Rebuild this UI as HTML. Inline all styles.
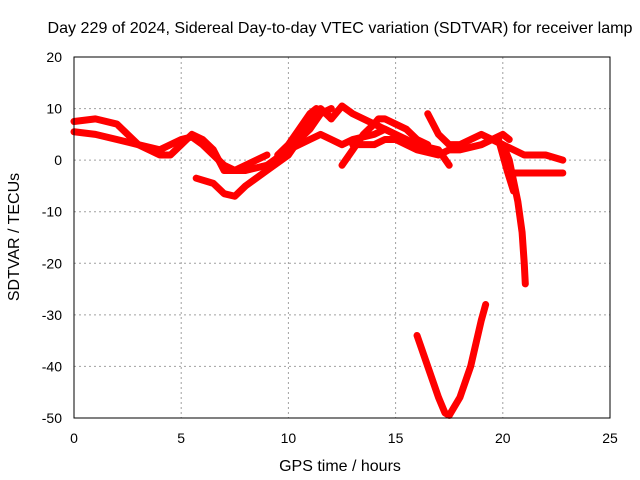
<!DOCTYPE html>
<html><head><meta charset="utf-8"><style>
html,body{margin:0;padding:0;background:#fff}
svg{display:block;font-family:"Liberation Sans",sans-serif}
</style></head><body>
<svg id="chart" width="640" height="480">
<text x="340" y="33" text-anchor="middle" font-size="16" textLength="585" lengthAdjust="spacingAndGlyphs">Day 229 of 2024, Sidereal Day-to-day VTEC variation (SDTVAR) for receiver lamp</text>
<g id="grid"></g>
<g id="ticks"></g>
<g id="series"></g>
<rect x="74" y="57" width="536" height="361" fill="none" stroke="#000"/>
<text x="340" y="471" text-anchor="middle" font-size="16">GPS time / hours</text>
<text transform="translate(19,237) rotate(-90)" text-anchor="middle" font-size="16">SDTVAR / TECUs</text>
</svg>
<script>
const xTicks=[0,5,10,15,20,25];
const yTicks=[20,10,0,-10,-20,-30,-40,-50];
const s1=[[0,7.5],[1,8],[2,7],[2.5,5],[3,3],[4,2],[5,4],[5.5,4.5],[6,3],[7,-1],[7.5,-2],[8,-1],[8.5,0],[9,1]];
const s2=[[0,5.5],[1,5],[2,4],[3,3],[4,1],[4.5,1],[5,3],[5.5,5],[6,4],[6.5,2],[7,-2],[7.5,-2],[8,-2],[9,-1],[10,2],[11,6],[11.5,9],[12,10]];
const s3=[[5.7,-3.5],[6.5,-4.5],[7,-6.5],[7.5,-7],[8,-5],[9,-2],[10,1],[10.5,4],[11,7],[11.5,10],[12,8]];
const s4=[[9.5,1],[10,3],[10.5,6],[11,9],[11.3,10],[11.8,9],[12,8],[12.5,10.5],[13,9],[14,7],[15,5],[16,3],[17,2],[17.5,-1]];
const s5=[[10,2],[11,4],[11.5,5],[12,4],[12.5,3],[13,4],[14,5],[14.5,6],[15,5],[15.5,4]];
const s6=[[12.5,-1],[13,2],[13.5,5],[14,7],[14.2,8],[14.5,8],[15,7],[15.5,6],[16,4],[16.5,3]];
const s7=[[13,3],[14,3],[14.5,4],[15,4],[16,2],[17,1],[17.5,2],[18,2],[19,3],[19.5,4],[20,5],[20.3,4]];
const s8=[[16.5,9],[17,5],[17.5,3],[18,3],[18.5,4],[19,5],[19.5,4],[20,3],[21,1],[22,1],[22.8,0]];
const s9=[[19.5,4],[20,3],[20.3,0],[20.5,-4],[20.7,-8],[20.9,-14],[21,-20],[21.05,-24]];
const s10=[[19.8,4],[20,1],[20.2,-2],[20.5,-6]];
const s11=[[20.5,-2.5],[21,-2.5],[21.5,-2.5],[22,-2.5],[22.8,-2.5]];
const s12=[[16,-34],[16.5,-40],[17,-46],[17.3,-49],[17.5,-49.5],[18,-46],[18.5,-40],[19,-31],[19.2,-28]];
const allSeries=[s1,s2,s3,s4,s5,s6,s7,s8,s9,s10,s11,s12];
const NS="http://www.w3.org/2000/svg";
const X=v=>74+v*536/25, Y=v=>57+(20-v)*361/70;
const grid=document.getElementById('grid'),ticks=document.getElementById('ticks'),ser=document.getElementById('series');
xTicks.forEach(t=>{
 const l=document.createElementNS(NS,'line');
 
 
 l.setAttribute('x1',X(t));l.setAttribute('x2',X(t));l.setAttribute('y1',57);l.setAttribute('y2',418);
 l.setAttribute('stroke','#a0a0a0');l.setAttribute('stroke-dasharray','2,3');grid.appendChild(l);
 const tx=document.createElementNS(NS,'text');
 
 
 tx.setAttribute('x',X(t));tx.setAttribute('y',443);tx.setAttribute('text-anchor','middle');tx.setAttribute('font-size','14');
 tx.textContent=t;ticks.appendChild(tx);
});
yTicks.forEach(t=>{
 const l=document.createElementNS(NS,'line');
 
 
 l.setAttribute('x1',74);l.setAttribute('x2',610);l.setAttribute('y1',Y(t));l.setAttribute('y2',Y(t));
 l.setAttribute('stroke','#a0a0a0');l.setAttribute('stroke-dasharray','2,3');grid.appendChild(l);
 const tx=document.createElementNS(NS,'text');
 
 
 tx.setAttribute('x',62);tx.setAttribute('y',Y(t)+5);tx.setAttribute('text-anchor','end');tx.setAttribute('font-size','14');
 tx.textContent=t;ticks.appendChild(tx);
});
allSeries.forEach((s,i)=>{
 const p=document.createElementNS(NS,'polyline');
 
 
 p.setAttribute('points',s.map(d=>X(d[0])+','+Y(d[1])).join(' '));
 p.setAttribute('fill','none');p.setAttribute('stroke','#ff0000');p.setAttribute('stroke-width','7');
 p.setAttribute('stroke-linejoin','round');p.setAttribute('stroke-linecap','round');
 ser.appendChild(p);
});
</script>
</body></html>
